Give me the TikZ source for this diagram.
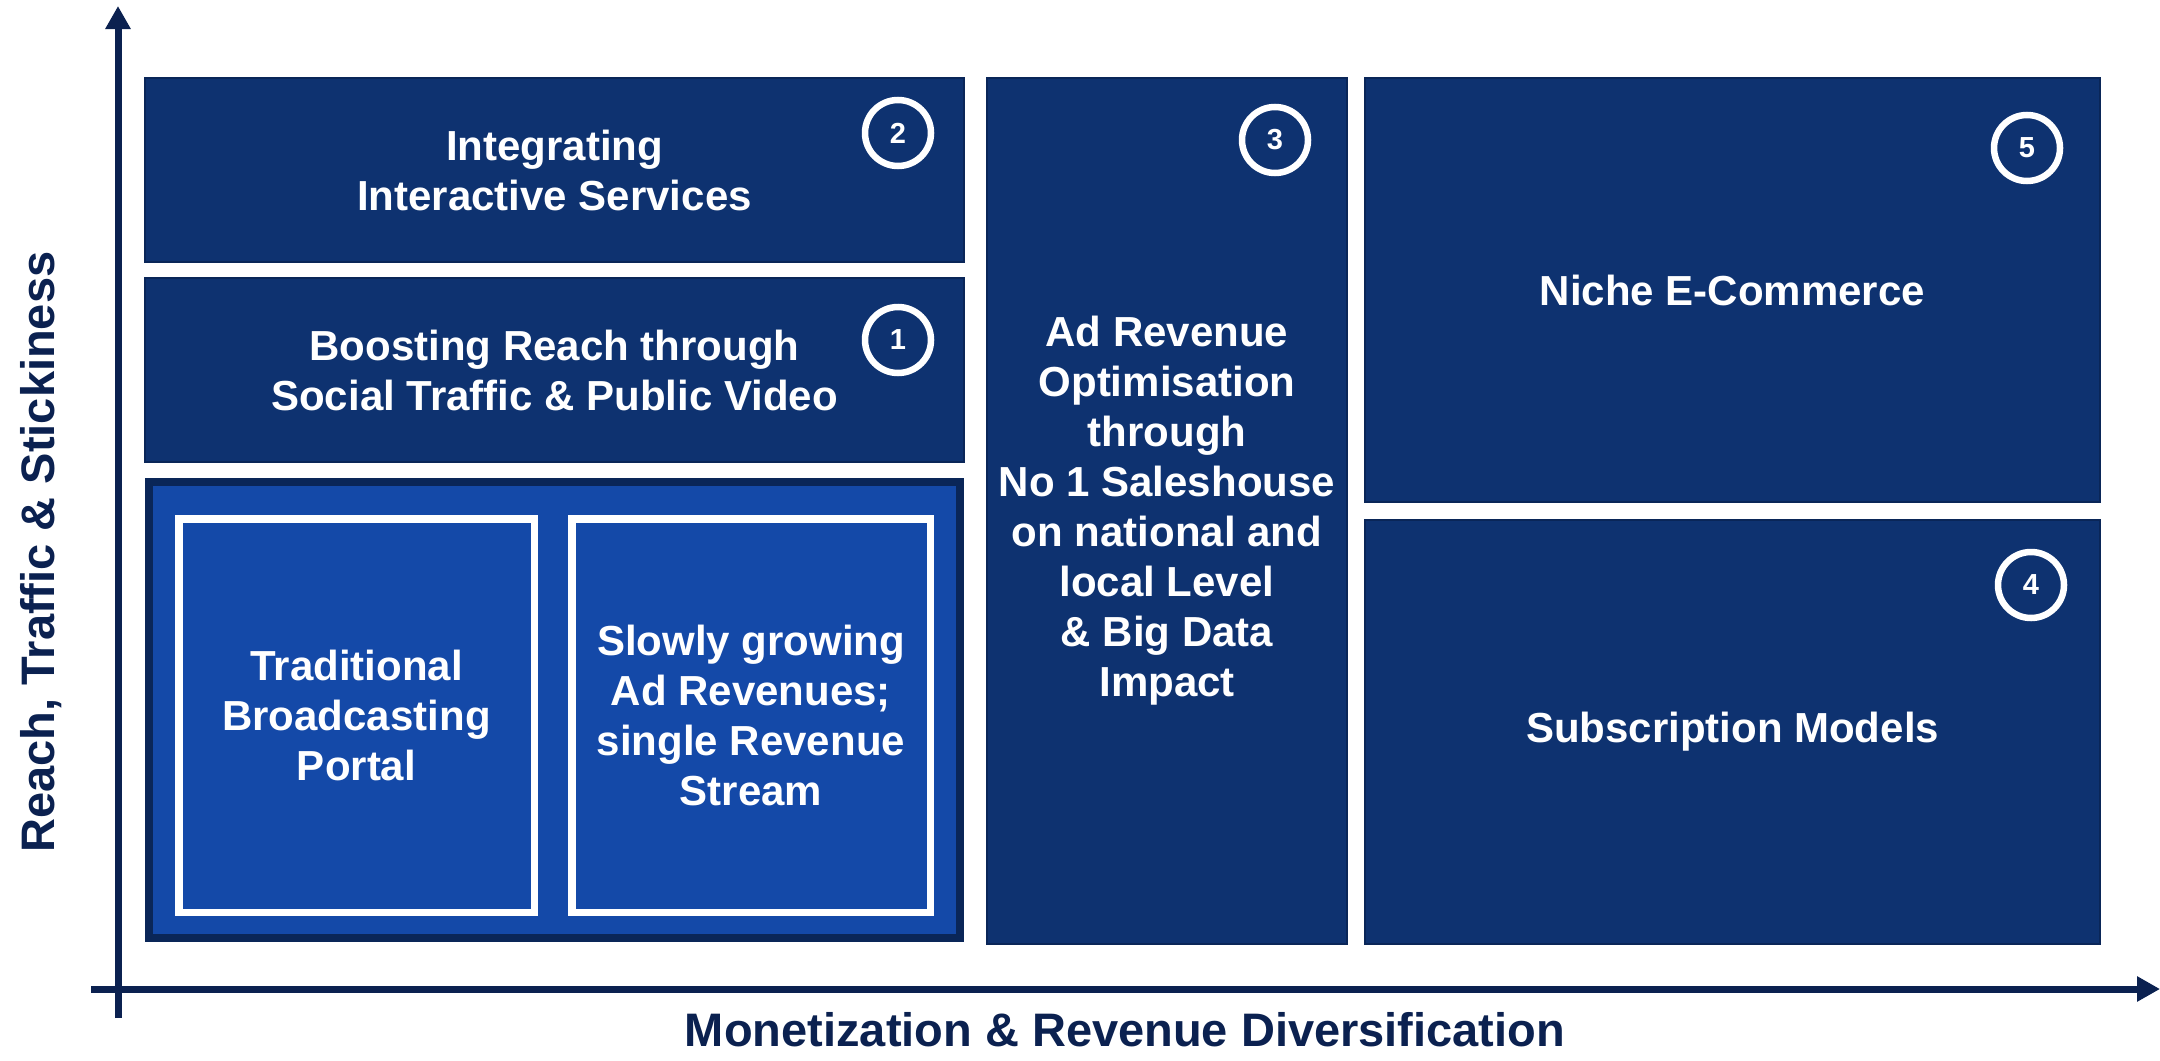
\documentclass[tikz,border=0pt]{standalone}
\usepackage{fontspec}
\setmainfont{Liberation Sans}
\usetikzlibrary{arrows.meta}
\definecolor{navy}{HTML}{0E3270}
\definecolor{boxline}{HTML}{0A2658}
\definecolor{midblue}{HTML}{1449A8}
\definecolor{axisblue}{HTML}{0B2150}
\begin{document}
\begin{tikzpicture}[x=1pt,y=-1pt,
  dbox/.style={draw=boxline, line width=2pt, fill=navy, text=white,
    font=\bfseries\fontsize{42}{50}\selectfont, align=center, inner sep=0pt},
  wbox/.style={draw=white, line width=7.5pt, fill=midblue, text=white,
    font=\bfseries\fontsize{42}{50}\selectfont, align=center, inner sep=0pt},
  numc/.style={circle, draw=white, line width=6.5pt, minimum size=66pt, inner sep=0pt,
    text=white, font=\bfseries\fontsize{29}{29}\selectfont},
  axis/.style={draw=axisblue, line width=7pt, -{Triangle[length=23pt,width=24pt]}},
  axlab/.style={text=axisblue, font=\bfseries\fontsize{47}{56}\selectfont, inner sep=0pt}]
\useasboundingbox (0,0) rectangle (2160,1060);
\fill[white] (0,0) rectangle (2160,1060);

% boxes
\node[dbox, minimum width=819pt, minimum height=184pt] (b2) at (554.5,170)
  {Integrating\\Interactive Services};
\node[dbox, minimum width=819pt, minimum height=184pt] (b1) at (554.5,370)
  {Boosting Reach through\\Social Traffic \& Public Video};
\node[draw=boxline, line width=8pt, fill=midblue, minimum width=811pt, minimum height=456pt, inner sep=0pt] (outer) at (554.5,710) {};
\node[wbox, minimum width=355.5pt, minimum height=393.5pt] (trad) at (356.5,715.5)
  {Traditional\\Broadcasting\\Portal};
\node[wbox, minimum width=358.5pt, minimum height=393.5pt] (slow) at (751,715.5)
  {Slowly growing\\Ad Revenues;\\single Revenue\\Stream};
\node[dbox, minimum width=360pt, minimum height=866pt] (b3) at (1167,511)
  {Ad Revenue\\Optimisation\\through\\No 1 Saleshouse\\on national and\\local Level\\\& Big Data\\Impact};
\node[dbox, minimum width=735pt, minimum height=424pt] (b5) at (1732.5,290)
  {Niche E-Commerce};
\node[dbox, minimum width=735pt, minimum height=424pt] (b4) at (1732.5,732)
  {Subscription Models};

% number circles
\node[numc] (c2) at (898,133) {2};
\node[numc] (c1) at (898,340) {1};
\node[numc] (c3) at (1275,140) {3};
\node[numc] (c5) at (2027,148) {5};
\node[numc] (c4) at (2031,585) {4};

% axes
\coordinate (yb) at (118,1018);
\coordinate (yt) at (118,6);
\coordinate (xl) at (91,989);
\coordinate (xr) at (2160,989);
\draw[axis] (yb) -- (yt);
\draw[axis] (xl) -- (xr);

\node[axlab, rotate=90] (ylab) at (41,552) {Reach, Traffic \& Stickiness};
\node[axlab] (xlab) at (1125,1030) {Monetization \& Revenue Diversification};
\end{tikzpicture}
\end{document}
